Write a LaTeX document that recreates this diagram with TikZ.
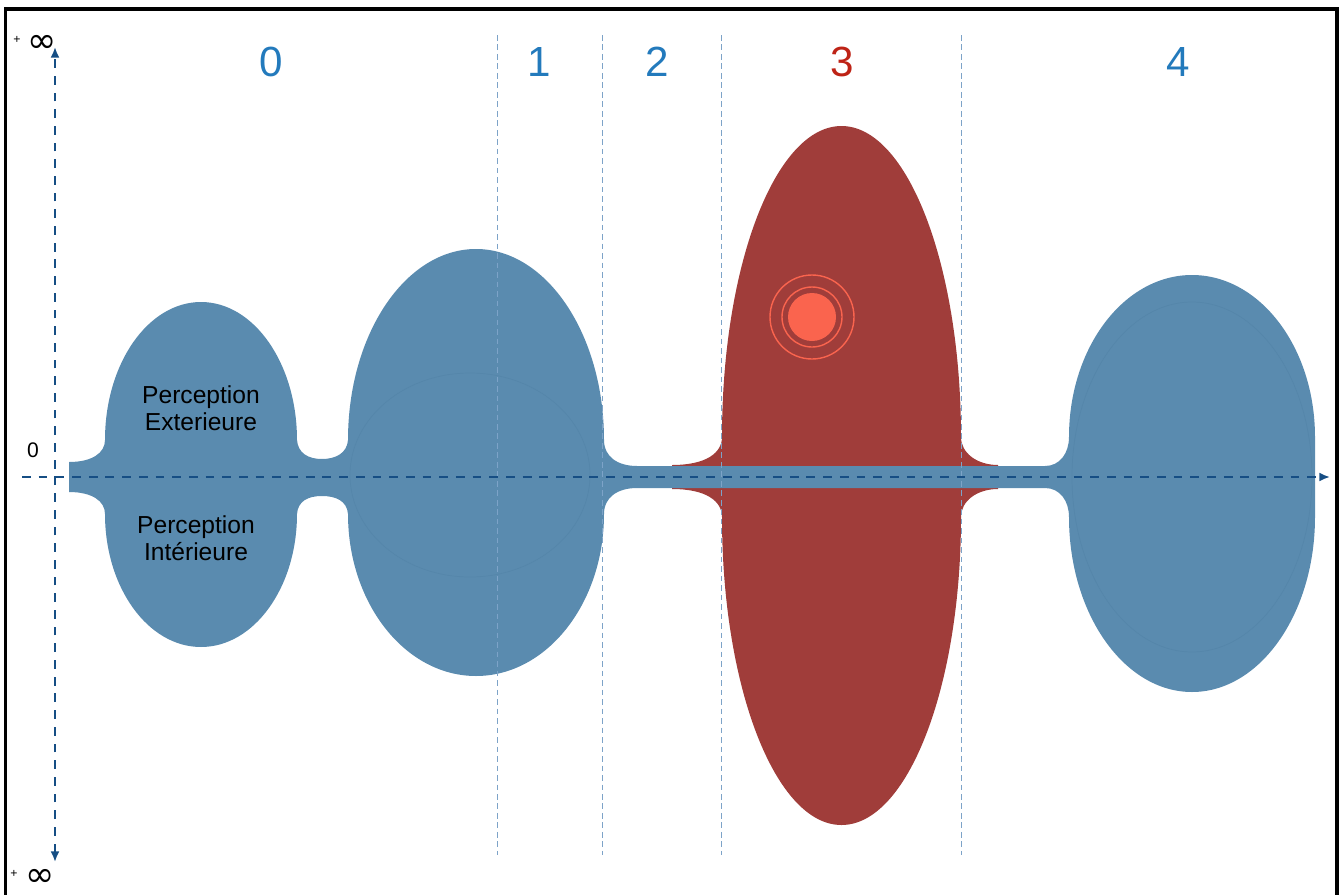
\documentclass[tikz,border=0pt]{standalone}
\usepackage{fontspec}
\setmainfont{Liberation Sans}
\newfontfamily\symfont{DejaVu Sans}
\usetikzlibrary{arrows.meta}

\definecolor{blobblue}{RGB}{90,139,175}
\definecolor{innerblue}{RGB}{85,134,170}
\definecolor{blobred}{RGB}{160,61,58}
\definecolor{ringred}{RGB}{250,100,78}
\definecolor{axisblue}{RGB}{22,78,132}
\definecolor{sectblue}{RGB}{125,163,200}
\definecolor{numblue}{RGB}{35,122,188}
\definecolor{numred}{RGB}{190,35,22}

\tikzset{every path/.style={semithick}}
\tikzset{
    axis/.style={axisblue, line width=1.1pt, dash pattern=on 5pt off 4.5pt},
    section/.style={sectblue, line width=0.55pt, dash pattern=on 3.2pt off 2.2pt},
    zone/.style={numblue, font=\fontsize{24}{28}\selectfont},
    perc/.style={align=center, font=\fontsize{14}{15.5}\selectfont},
    tip/.tip={Latex[length=6pt,width=5pt]}
}

\begin{document}
\begin{tikzpicture}[x=0.02cm, y=0.02cm]
    \useasboundingbox (0,-417) rectangle (1340,477);
    \draw[line width=2pt] (5.5,-440) rectangle (1337,468);

    \fill[blobred] (672,-12) -- (672,12)
        .. controls (706,12) and (722,24) .. (722,40)
        arc[start angle=180, end angle=0, x radius=119.5, y radius=311]
        .. controls (961,24) and (977,12) .. (998,12) -- (998,-12)
        .. controls (977,-12) and (961,-24) .. (961,-40)
        arc[start angle=0, end angle=-180, x radius=119.5, y radius=308]
        .. controls (722,-24) and (706,-12) .. (672,-12) -- cycle;

    \fill[blobblue] (69,-15) -- (69,15)
        .. controls (92,15) and (105,24) .. (105,37)
        arc[start angle=180, end angle=0, x radius=96, y radius=138]
        .. controls (298,24) and (308,18) .. (322,18)
        .. controls (336,18) and (347,24) .. (348,37)
        arc[start angle=180, end angle=0, x radius=128, y radius=191]
        .. controls (604,20) and (618,11) .. (637,11) -- (1045,11)
        .. controls (1060,11) and (1069,24) .. (1069,40)
        arc[start angle=180, end angle=0, x radius=123, y radius=162]
        -- (1315,-40)
        arc[start angle=0, end angle=-180, x radius=123, y radius=175]
        .. controls (1069,-24) and (1060,-11) .. (1045,-11) -- (637,-11)
        .. controls (618,-11) and (604,-20) .. (604,-37)
        arc[start angle=0, end angle=-180, x radius=128, y radius=162]
        .. controls (347,-24) and (336,-19) .. (322,-19)
        .. controls (308,-19) and (298,-24) .. (297,-37)
        arc[start angle=0, end angle=-180, x radius=96, y radius=133]
        .. controls (105,-24) and (92,-15) .. (69,-15) -- cycle;

    \draw[innerblue, line width=0.4pt] (470,2) ellipse[x radius=120, y radius=102];
    \draw[innerblue, line width=0.4pt] (1192,0) ellipse[x radius=120, y radius=175];

    \fill[ringred] (812,160) circle[radius=24];
    \draw[ringred, line width=0.8pt] (812,160) circle[radius=30] (812,160) circle[radius=42];

    \foreach \x in {497,602,721,961}
        \draw[section] (\x,442) -- (\x,-378);

    \coordinate (xstart) at (22,0);
    \coordinate (xend) at (1330,0);
    \coordinate (ytop) at (55,430);
    \coordinate (ybottom) at (55,-385);
    \draw[axis, -tip] (xstart) -- (xend);
    \draw[axis, tip-tip] (ybottom) -- (ytop);

    \node[zone] (zone0) at (271,415) {0};
    \node[zone] (zone1) at (539,415) {1};
    \node[zone] (zone2) at (657,415) {2};
    \node[zone, numred] (zone3) at (842,415) {3};
    \node[zone] (zone4) at (1178,415) {4};

    \node[perc] (ext) at (201,69) {Perception\\Exterieure};
    \node[perc] (int) at (196,-61) {Perception\\Intérieure};

    \node[font=\fontsize{12}{14}\selectfont] (origin) at (33,27) {0};
    \node[font=\fontsize{7}{8}\selectfont] (plustop) at (17,437) {+};
    \node[font=\symfont\fontsize{20}{22}\selectfont] (inftop) at (42,433) {∞};
    \node[font=\fontsize{7}{8}\selectfont] (plusbottom) at (14,-397) {+};
    \node[font=\symfont\fontsize{20}{22}\selectfont] (infbottom) at (40,-401) {∞};
\end{tikzpicture}
\end{document}
